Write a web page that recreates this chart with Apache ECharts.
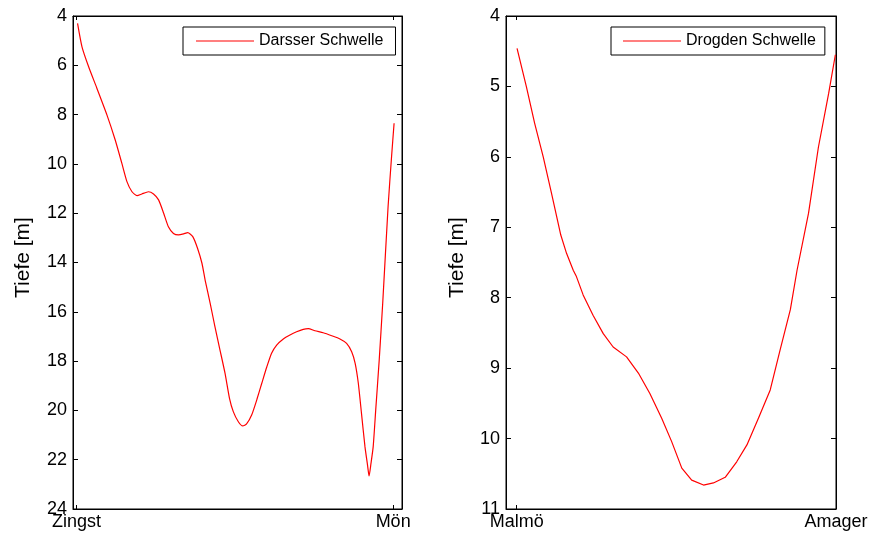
<!DOCTYPE html>
<html><head><meta charset="utf-8">
<script src="https://cdn.jsdelivr.net/npm/echarts@6/dist/echarts.min.js"></script>
<style>html,body{margin:0;padding:0;background:#fff}#c{width:873px;height:537px}</style>
</head><body><div id="c"></div>
<script>
// Darsser Schwelle profile (0 = Zingst, 100 = Mön)
const darsserX = [0.3,1.7,3.8,6.4,9.6,12.2,14.3,15.9,17.5,19.1,20.6,22.7,24.3,25.9,27.5,29.0,30.6,32.2,33.8,35.1,36.7,38.2,39.6,40.6,42.2,43.7,45.3,46.9,48.3,49.5,51.1,52.5,53.7,55.3,56.9,58.5,60.1,61.6,63.2,65.3,67.4,69.5,71.6,73.2,75.3,77.9,80.6,83.2,85.3,86.9,88.0,89.0,90.0,91.1,91.9,92.4,93.0,93.7,94.5,95.6,96.7,98.4,99.5,100.3];
const darsserDepth = [4.30,5.25,6.06,6.93,8.02,9.03,9.98,10.72,11.13,11.29,11.22,11.13,11.22,11.46,12.0,12.55,12.82,12.88,12.84,12.79,12.95,13.42,14.03,14.71,15.66,16.60,17.55,18.50,19.51,20.05,20.46,20.63,20.55,20.19,19.58,18.90,18.23,17.68,17.35,17.10,16.94,16.81,16.71,16.68,16.77,16.85,16.97,17.10,17.28,17.62,18.09,18.90,20.12,21.47,22.21,22.66,22.15,21.47,19.98,17.96,15.66,11.74,9.71,8.35];
// Drogden Schwelle profile (0 = Malmö, 100 = Amager)
const drogdenX = [0.1,3.0,5.6,8.3,10.9,13.8,15.6,17.7,18.7,20.8,23.9,27.1,30.2,34.4,38.1,41.7,45.4,48.5,51.7,54.8,58.5,61.6,65.3,68.9,72.1,75.7,79.4,82.5,85.7,87.8,91.4,94.5,97.7,99.8];
const drogdenDepth = [4.46,5.00,5.52,6.0,6.52,7.11,7.37,7.61,7.70,7.96,8.25,8.51,8.70,8.84,9.07,9.36,9.71,10.04,10.42,10.59,10.66,10.63,10.55,10.33,10.09,9.71,9.31,8.74,8.17,7.61,6.80,5.86,5.10,4.55];

const darsserEndLabels = ['Zingst','Mön'];
const drogdenEndLabels = ['Malmö','Amager'];
const endPositions = [0,100];
const seriesNames = ['Darsser Schwelle','Drogden Schwelle'];
const yTitle = 'Tiefe [m]';

const FONT = 'Liberation Sans, Arial, sans-serif';
const black = '#000';

function pairs(xs, ys){ return xs.map((x,i)=>[x, ys[i]]); }

function xAxes(gridIndex, min, max, labels){
  return [
    { type:'value', gridIndex, position:'bottom', min, max,
      axisLine:{show:true, onZero:false, lineStyle:{color:black,width:1}},
      axisTick:{show:true, inside:true, length:4, customValues:endPositions, lineStyle:{color:black}},
      axisLabel:{show:true, customValues:endPositions, margin:4, color:black, fontSize:18, fontFamily:FONT,
        formatter:(v)=> v===endPositions[0] ? labels[0] : labels[1]},
      splitLine:{show:false} },
    { type:'value', gridIndex, position:'top', min, max,
      axisLine:{show:true, onZero:false, lineStyle:{color:black,width:1}},
      axisTick:{show:true, inside:true, length:4, customValues:endPositions, lineStyle:{color:black}},
      axisLabel:{show:false}, splitLine:{show:false} }
  ];
}
function yAxes(gridIndex, min, max, interval, nameGap){
  return [
    { type:'value', gridIndex, position:'left', inverse:true, min, max, interval,
      name:yTitle, nameLocation:'middle', nameGap, nameRotate:90,
      nameTextStyle:{color:black, fontSize:21, fontFamily:FONT, padding:[0,0,0,10]},
      axisLine:{show:true, onZero:false, lineStyle:{color:black,width:1}},
      axisTick:{show:true, inside:true, length:5, lineStyle:{color:black}},
      axisLabel:{show:true, margin:6, color:black, fontSize:18, fontFamily:FONT},
      splitLine:{show:false} },
    { type:'value', gridIndex, position:'right', inverse:true, min, max, interval,
      axisLine:{show:true, onZero:false, lineStyle:{color:black,width:1}},
      axisTick:{show:true, inside:true, length:5, lineStyle:{color:black}},
      axisLabel:{show:false}, splitLine:{show:false} }
  ];
}

const legendCommon = {
  orient:'horizontal', icon:'rect', itemWidth:58, itemHeight:1,
  borderColor:black, borderWidth:1, backgroundColor:'#fff', borderRadius:0,
  textStyle:{color:black, fontSize:16, fontFamily:FONT},
  itemStyle:{color:'#ff0000'}
};

const option = {
  animation:false,
  backgroundColor:'#fff',
  textStyle:{fontFamily:FONT},
  grid:[
    {left:73, right:471, top:16, bottom:28, show:true, borderColor:black, borderWidth:1, backgroundColor:'transparent', containLabel:false},
    {left:506, right:37, top:16, bottom:28, show:true, borderColor:black, borderWidth:1, backgroundColor:'transparent', containLabel:false}
  ],
  xAxis:[...xAxes(0,-1.14,102.8,darsserEndLabels), ...xAxes(1,-3.36,100,drogdenEndLabels)],
  yAxis:[...yAxes(0,4,24,2,39), ...yAxes(1,4,11,1,38)],
  legend:[
    Object.assign({}, legendCommon, {data:[seriesNames[0]], left:183, top:27, padding:[6,12,6,13]}),
    Object.assign({}, legendCommon, {data:[seriesNames[1]], left:611, top:27, padding:[6,9,6,12]})
  ],
  series:[
    { name:seriesNames[0], type:'line', xAxisIndex:0, yAxisIndex:0, data:pairs(darsserX,darsserDepth),
      showSymbol:false, smooth:0.2, clip:true, lineStyle:{color:'#ff0000', width:1.2}, itemStyle:{color:'#ff0000'} },
    { name:seriesNames[1], type:'line', xAxisIndex:2, yAxisIndex:2, data:pairs(drogdenX,drogdenDepth),
      showSymbol:false, smooth:false, clip:true, lineStyle:{color:'#ff0000', width:1.2}, itemStyle:{color:'#ff0000'} }
  ]
};
const chart = echarts.init(document.getElementById('c'), null, {renderer:'canvas'});
chart.setOption(option);
</script>
</body></html>
